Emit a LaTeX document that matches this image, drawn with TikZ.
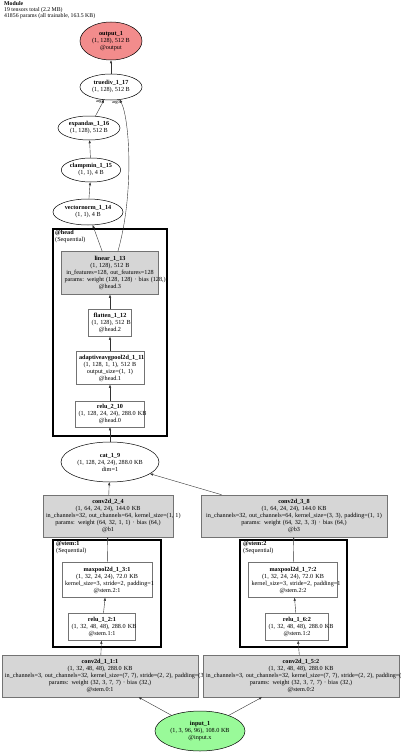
\documentclass[tikz,border=0pt]{standalone}
\usepackage{fontspec}
\setmainfont{Liberation Serif}
\definecolor{boxgray}{gray}{0.45}
\definecolor{boxfill}{gray}{0.84}
\definecolor{outred}{rgb}{0.95,0.55,0.55}
\definecolor{inpgreen}{rgb}{0.60,0.98,0.60}
\usepackage{tikz}
\usetikzlibrary{arrows.meta,shapes.geometric}
\tikzset{
  opbox/.style={rectangle,draw=boxgray,fill=white,line width=0.5pt,inner xsep=3pt,inner ysep=0pt,align=center},
  opgray/.style={opbox,fill=boxfill},
  opell/.style={ellipse,draw=black,line width=0.5pt,fill=white,inner sep=0pt,align=center},
  grp/.style={line width=2pt},
  grplab/.style={anchor=north west,align=left,inner sep=0pt},
  flow/.style={-{Triangle[length=3pt,width=2.2pt]},line width=0.4pt,black!80},
  elab/.style={font=\fontsize{4.5}{5}\selectfont,inner sep=0pt},
}

\begin{document}
\begin{tikzpicture}[x=1pt,y=-1pt,font=\fontsize{6.2}{7}\selectfont]
        \useasboundingbox (0,0) rectangle (400,752);
        \node[grplab,font=\fontsize{5.8}{5.9}\selectfont] (hdr) at (4,1)
              {\textbf{Module}\\19 tensors total (2.2 MB)\\41856 params (all trainable, 163.5 KB)};
        % clusters
        \draw[grp] (53,229) rectangle (167,436);
        \node[grplab] (headlab) at (55,230) {\textbf{@head}\\(Sequential)};
        \draw[grp] (53,540) rectangle (161,647);
        \node[grplab] (stemlabA) at (56,541) {\textbf{@stem:1}\\(Sequential)};
        \draw[grp] (240,540) rectangle (347,647);
        \node[grplab] (stemlabB) at (243,541) {\textbf{@stem:2}\\(Sequential)};
        % top ellipses
        \node[opell,fill=outred,minimum width=62,minimum height=38] (out) at (111,41)
              {\textbf{output\_1}\\(1, 128), 512 B\\@output};
        \node[opell,minimum width=62,minimum height=26] (td) at (111,87)
              {\textbf{truediv\_1\_17}\\(1, 128), 512 B};
        \node[opell,minimum width=62,minimum height=24] (exp) at (89,128)
              {\textbf{expandas\_1\_16}\\(1, 128), 512 B};
        \node[opell,minimum width=58,minimum height=24] (cmin) at (91,170)
              {\textbf{clampmin\_1\_15}\\(1, 1), 4 B};
        \node[opell,minimum width=70,minimum height=26] (vnorm) at (88,212)
              {\textbf{vectornorm\_1\_14}\\(1, 1), 4 B};
        % head
        \node[opgray,text width=91,minimum height=43] (lin) at (110,273)
              {\textbf{linear\_1\_13}\\(1, 128), 512 B\\in\_features=128, out\_features=128\\
               \mbox{params: weight (128, 128) · bias (128,)}\\@head.3};
        \node[opbox,text width=37,minimum height=27] (flat) at (110,323)
              {\mbox{\textbf{flatten\_1\_12}}\\\mbox{(1, 128), 512 B}\\@head.2};
        \node[opbox,text width=62,minimum height=33] (aap) at (110,368)
              {\mbox{\textbf{adaptiveavgpool2d\_1\_11}}\\\mbox{(1, 128, 1, 1), 512 B}\\output\_size=(1, 1)\\@head.1};
        \node[opbox,text width=63,minimum height=26] (rB) at (110,414)
              {\textbf{relu\_2\_10}\\\mbox{(1, 128, 24, 24), 288.0 KB}\\@head.0};
        \node[opell,minimum width=98,minimum height=40] (cat) at (110,462)
              {\textbf{cat\_1\_9}\\(1, 128, 24, 24), 288.0 KB\\dim=1};
        % branches
        \node[opgray,text width=124,minimum height=42] (cB) at (108,516)
              {\textbf{conv2d\_2\_4}\\(1, 64, 24, 24), 144.0 KB\\
               \mbox{in\_channels=32, out\_channels=64, kernel\_size=(1, 1)}\\
               params: weight (64, 32, 1, 1) · bias (64,)\\@b1};
        \node[opgray,text width=180,minimum height=42] (cC) at (294,516)
              {\textbf{conv2d\_3\_8}\\(1, 64, 24, 24), 144.0 KB\\
               \mbox{in\_channels=32, out\_channels=64, kernel\_size=(3, 3), padding=(1, 1)}\\
               params: weight (64, 32, 3, 3) · bias (64,)\\@b3};
        % stem 1
        \node[opbox,text width=84,minimum height=35] (mpA) at (107,580)
              {\textbf{maxpool2d\_1\_3:1}\\(1, 32, 24, 24), 72.0 KB\\
               \mbox{kernel\_size=3, stride=2, padding=1}\\@stem.2:1};
        \node[opbox,text width=61,minimum height=27] (rA) at (102,627)
              {\textbf{relu\_1\_2:1}\\\mbox{(1, 32, 48, 48), 288.0 KB}\\@stem.1:1};
        % stem 2
        \node[opbox,text width=83,minimum height=35] (mpC) at (293,580)
              {\textbf{maxpool2d\_1\_7:2}\\(1, 32, 24, 24), 72.0 KB\\
               \mbox{kernel\_size=3, stride=2, padding=1}\\@stem.2:2};
        \node[opbox,text width=57,minimum height=27] (rC) at (297,627)
              {\textbf{relu\_1\_6:2}\\\mbox{(1, 32, 48, 48), 288.0 KB}\\@stem.1:2};
        % first convs and input
        \node[opgray,text width=190,minimum height=42] (cA) at (100,676)
              {\textbf{conv2d\_1\_1:1}\\(1, 32, 48, 48), 288.0 KB\\
               \mbox{in\_channels=3, out\_channels=32, kernel\_size=(7, 7), stride=(2, 2), padding=(3, 3)}\\
               params: weight (32, 3, 7, 7) · bias (32,)\\@stem.0:1};
        \node[opgray,text width=190,minimum height=42] (cD) at (301,676)
              {\textbf{conv2d\_1\_5:2}\\(1, 32, 48, 48), 288.0 KB\\
               \mbox{in\_channels=3, out\_channels=32, kernel\_size=(7, 7), stride=(2, 2), padding=(3, 3)}\\
               params: weight (32, 3, 7, 7) · bias (32,)\\@stem.0:2};
        \node[opell,fill=inpgreen,minimum width=90,minimum height=40] (inp) at (200,731)
              {\textbf{input\_1}\\(1, 3, 96, 96), 108.0 KB\\@input.x};
        % edges
        \draw[flow] (inp) -- (cA);
        \draw[flow] (inp) -- (cD);
        \draw[flow] (cA) -- (rA);
        \draw[flow] (rA) -- (mpA);
        \draw[flow] (mpA) -- (cB);
        \draw[flow] (cD) -- (rC);
        \draw[flow] (rC) -- (mpC);
        \draw[flow] (mpC) -- (cC);
        \draw[flow] (cB) -- (cat);
        \draw[flow] (cC) -- (cat);
        \draw[flow] (cat) -- (rB);
        \draw[flow] (rB) -- (aap);
        \draw[flow] (aap) -- (flat);
        \draw[flow] (flat) -- (lin);
        \draw[flow] (lin) -- (vnorm);
        \draw[flow] (vnorm) -- (cmin);
        \draw[flow] (cmin) -- (exp);
        \draw[flow] (exp) -- (td);
        \draw[flow] (lin.70) .. controls (134,195) and (130,120) .. (td.-55);
        \draw[flow] (td) -- (out);
        \node[elab] (argB) at (100,102) {arg1};
        \node[elab] (argA) at (116,102) {arg0};
\end{tikzpicture}
\end{document}
